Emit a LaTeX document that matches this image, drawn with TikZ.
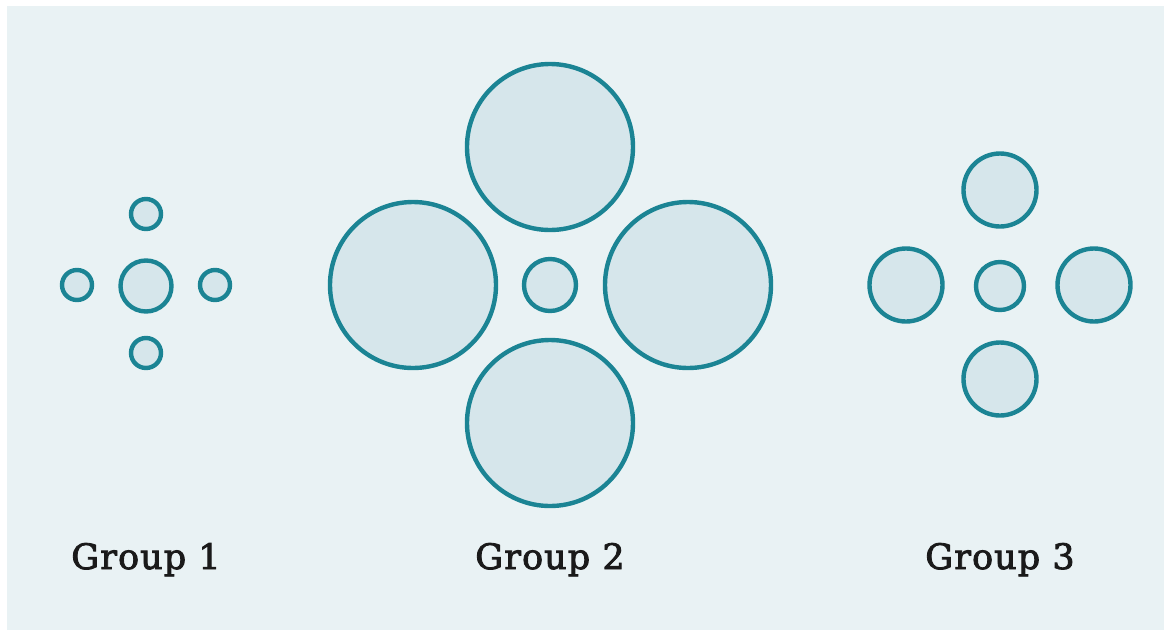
\documentclass[tikz,border=0pt]{standalone}
\usepackage{fontspec}
\newfontfamily\labelfont[LetterSpace=3,FakeBold=2.4]{DejaVu Serif}
\definecolor{panel}{HTML}{E9F2F4}
\definecolor{ring}{HTML}{1B8494}
\definecolor{disc}{HTML}{D6E6EB}
\definecolor{ink}{HTML}{1A1A1A}
\tikzset{
  ball/.style={circle, draw=ring, fill=disc, line width=4.4pt, inner sep=0pt, minimum size=#1},
  grouplabel/.style={font=\labelfont\fontsize{35}{40}\selectfont, text=ink, anchor=base}
}
\begin{document}
\begin{tikzpicture}[x=1pt,y=-1pt]
\useasboundingbox (0,0) rectangle (1171,630);
\fill[white] (0,0) rectangle (1171,630);
\fill[panel] (7,6) rectangle (1164,630);
% Group 1
\node[ball=51pt] (g1c) at (146,286) {};
\node[ball=30pt] (g1t) at (146,214) {};
\node[ball=30pt] (g1b) at (146,353) {};
\node[ball=30pt] (g1l) at (77,285) {};
\node[ball=30pt] (g1r) at (215,285) {};
% Group 2
\node[ball=52pt] (g2c) at (550,285) {};
\node[ball=166pt] (g2t) at (550,147) {};
\node[ball=166pt] (g2b) at (550,423) {};
\node[ball=166pt] (g2l) at (413,285) {};
\node[ball=166pt] (g2r) at (688,285) {};
% Group 3
\node[ball=48pt] (g3c) at (1000,286) {};
\node[ball=73pt] (g3t) at (1000,190) {};
\node[ball=73pt] (g3b) at (1000,379) {};
\node[ball=73pt] (g3l) at (906,285) {};
\node[ball=73pt] (g3r) at (1094,285) {};
% Labels
\node[grouplabel] (l1) at (146,569) {Group 1};
\node[grouplabel] (l2) at (550,569) {Group 2};
\node[grouplabel] (l3) at (1000,569) {Group 3};
\end{tikzpicture}
\end{document}
